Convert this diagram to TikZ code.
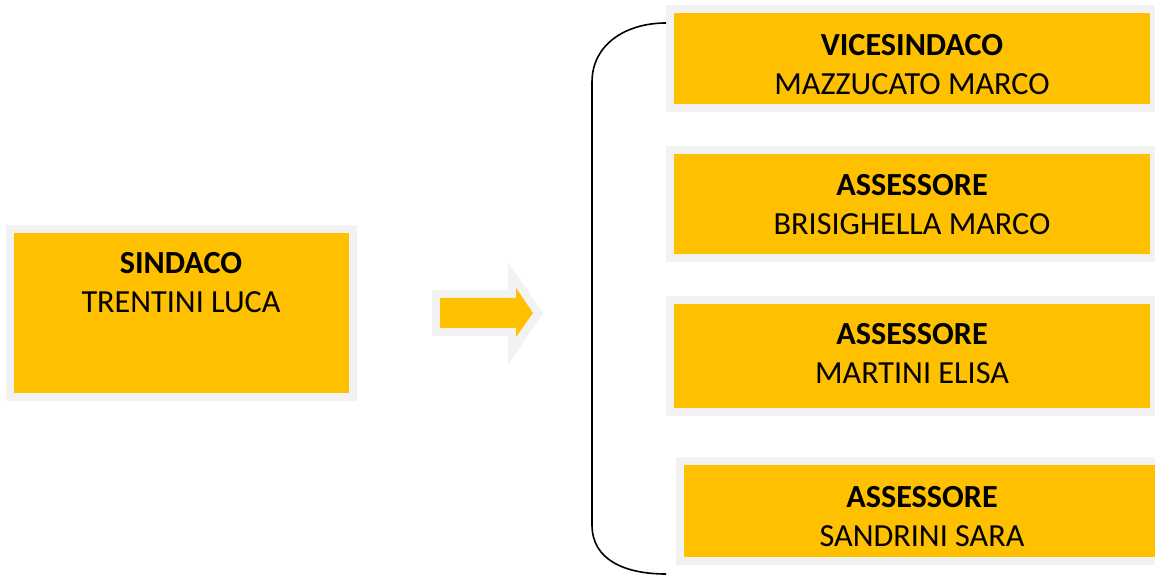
\documentclass[tikz,border=0pt]{standalone}
\usepackage{fontspec}
\setmainfont{Carlito}
\definecolor{boxyellow}{HTML}{FFC000}
\definecolor{boxgray}{HTML}{F2F2F2}
\tikzset{
  box/.style={fill=boxyellow, draw=boxgray, line width=4pt},
  carica/.style={align=center, font=\fontsize{16.1}{19.5}\selectfont, inner sep=0pt},
}

\begin{document}
\begin{tikzpicture}[x=0.5pt,y=-0.5pt]
\useasboundingbox (0,0) rectangle (1155,576);
% sindaco
\draw[box] (10,229) rectangle (353,397);
\node[carica] (sindaco) at (181,283) {\textbf{SINDACO}\\TRENTINI LUCA};
% freccia
\fill[boxgray] (432,290) -- (508,290) -- (508,262) -- (543,313) -- (508,365) -- (508,336) -- (432,336) -- cycle;
\fill[boxyellow] (440,298) -- (516,298) -- (516,288) -- (533,313) -- (516,337) -- (516,328) -- (440,328) -- cycle;
% giunta
\draw[box] (670,9) rectangle (1154,108);
\draw[box] (670,150) rectangle (1154,258);
\draw[box] (670,300) rectangle (1154,412);
\draw[box] (680,461) rectangle (1160,561);
\node[carica] (vice) at (912,65) {\textbf{VICESINDACO}\\MAZZUCATO MARCO};
\node[carica] (ass1) at (912,205) {\textbf{ASSESSORE}\\BRISIGHELLA MARCO};
\node[carica] (ass2) at (912,354) {\textbf{ASSESSORE}\\MARTINI ELISA};
\node[carica] (ass3) at (922,517) {\textbf{ASSESSORE}\\SANDRINI SARA};
% parentesi
\coordinate (top) at (666,23);
\coordinate (bot) at (666,574);
\draw[line width=0.8pt] (top) .. controls (625,23) and (592,45) .. (592,82) -- (592,525) .. controls (592,560) and (625,574) .. (bot);
\end{tikzpicture}
\end{document}
